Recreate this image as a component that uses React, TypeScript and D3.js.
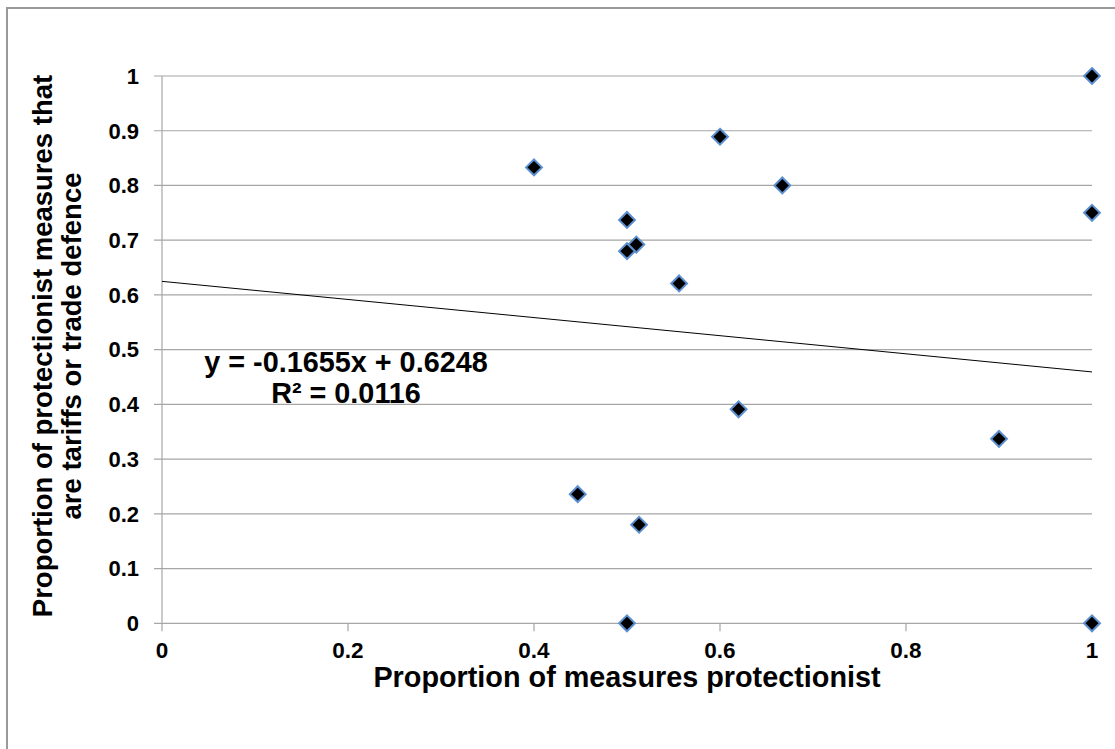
import React from "react";
import * as d3 from "d3";

const xValues = [0.4, 0.6, 0.667, 0.5, 0.5, 0.51, 0.556, 1, 1, 1, 0.62, 0.9, 0.447, 0.513, 0.5];
const yValues = [0.833, 0.889, 0.8, 0.737, 0.68, 0.692, 0.621, 1, 0.75, 0, 0.391, 0.337, 0.236, 0.18, 0];
const xTicks = [0, 0.2, 0.4, 0.6, 0.8, 1];
const yTicks = [0, 0.1, 0.2, 0.3, 0.4, 0.5, 0.6, 0.7, 0.8, 0.9, 1];
const trendSlope = -0.1655;
const trendIntercept = 0.6248;
const equationLines = ["y = -0.1655x + 0.6248", "R² = 0.0116"];
const xTitle = "Proportion of measures protectionist";
const yTitleLines = ["Proportion  of protectionist measures that", "are tariffs or trade defence"];

const W = 1115;
const H = 749;
const FONT = "Liberation Sans, Arial, sans-serif";

export default function App() {
  const x = d3.scaleLinear().domain([0, 1]).range([162, 1092]);
  const y = d3.scaleLinear().domain([0, 1]).range([623.3, 76]);
  const fmt = (v: number) => (v === 0 ? "0" : v === 1 ? "1" : String(+v.toFixed(1)));
  const diamond = d3.symbol().type(d3.symbolDiamond2).size(160)() as string;
  const trend = d3.line<number>().x((d) => x(d)).y((d) => y(trendIntercept + trendSlope * d))([0, 1]) as string;
  const grid = "#a6a6a6";

  return (
    <svg width={W} height={H} style={{ position: "absolute", left: 0, top: 0, display: "block", background: "#fff" }} fontFamily={FONT}>
      <rect x={7} y={8} width={1130} height={780} fill="#fff" stroke="#999" strokeWidth={2} />
      {yTicks.map((t) => (
        <line key={"g" + t} x1={154} x2={x(1)} y1={y(t)} y2={y(t)} stroke={grid} strokeWidth={1.2} />
      ))}
      <line x1={x(0)} x2={x(0)} y1={y(1)} y2={y(0)} stroke={grid} strokeWidth={1.2} />
      {xTicks.map((t) => (
        <line key={"xt" + t} x1={x(t)} x2={x(t)} y1={y(0)} y2={y(0) + 8} stroke={grid} strokeWidth={1.2} />
      ))}
      {yTicks.map((t) => (
        <text key={"yl" + t} x={139} y={y(t) + 7.8} textAnchor="end" fontSize={22} fontWeight="bold" fill="#000">
          {fmt(t)}
        </text>
      ))}
      {xTicks.map((t) => (
        <text key={"xl" + t} x={x(t)} y={658} textAnchor="middle" fontSize={22.5} fontWeight="bold" fill="#000">
          {fmt(t)}
        </text>
      ))}
      <path d={trend} stroke="#000" strokeWidth={1} fill="none" />
      {xValues.map((xv, i) => (
        <path
          key={"p" + i}
          d={diamond}
          transform={`translate(${x(xv)},${y(yValues[i])})`}
          fill="#000"
          stroke="#5b8fcf"
          strokeWidth={2}
        />
      ))}
      <text x={346} y={372} textAnchor="middle" fontSize={28.8} fontWeight="bold" fill="#000">
        {equationLines[0]}
      </text>
      <text x={346} y={402.5} textAnchor="middle" fontSize={28.8} fontWeight="bold" fill="#000">
        {equationLines[1]}
      </text>
      <text x={627} y={687} textAnchor="middle" fontSize={28.8} fontWeight="bold" fill="#000">
        {xTitle}
      </text>
      {yTitleLines.map((l, i) => (
        <text
          key={"yt" + i}
          transform={`translate(${i === 0 ? 52 : 81},346) rotate(-90)`}
          textAnchor="middle"
          fontSize={27.5}
          fontWeight="bold"
          fill="#000"
        >
          {l}
        </text>
      ))}
    </svg>
  );
}
